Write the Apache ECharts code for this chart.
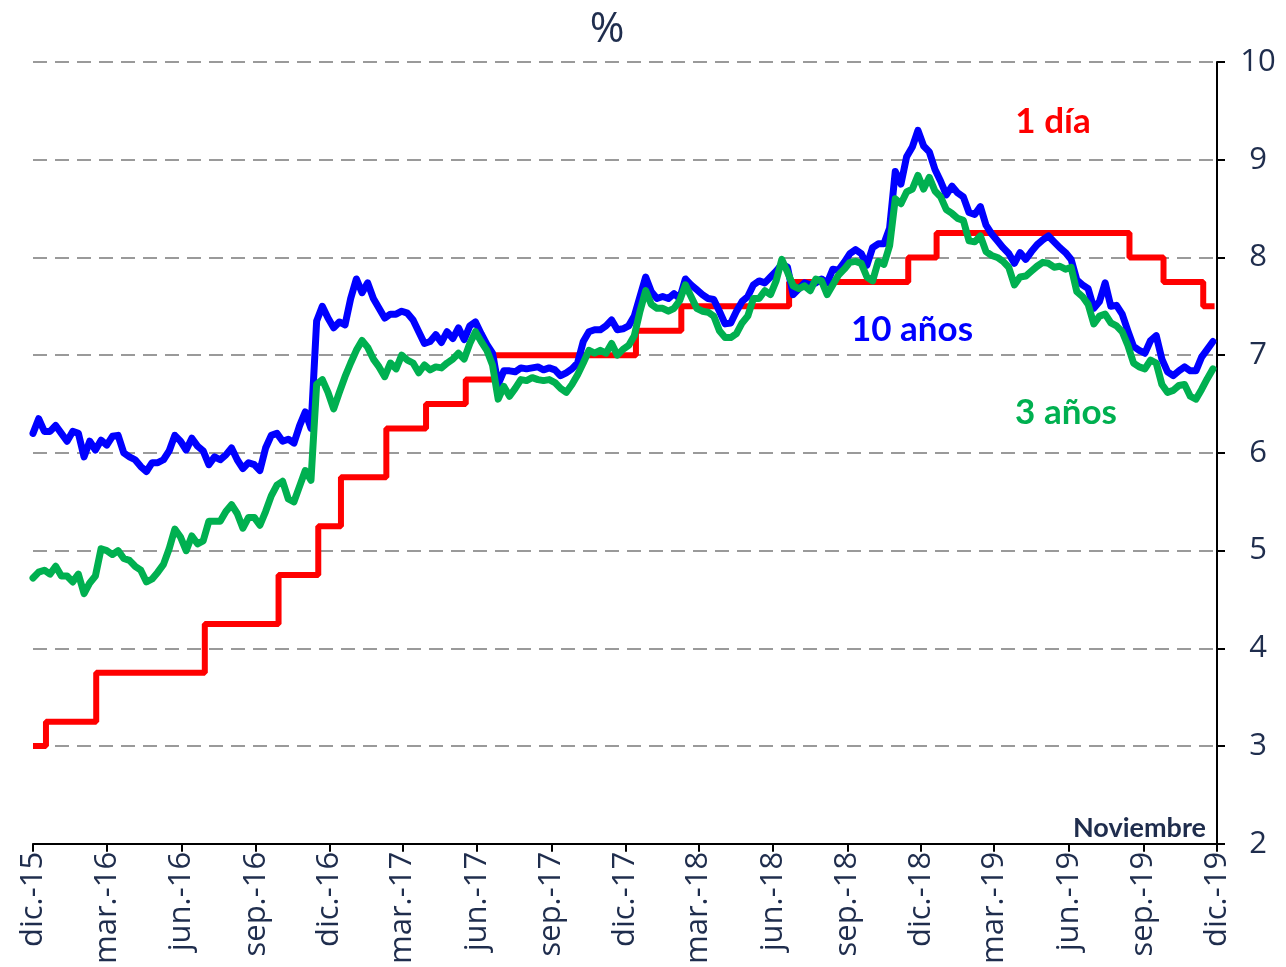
<!DOCTYPE html>
<html>
<head>
<meta charset="utf-8">
<title>Tasas de interés</title>
<script src="https://cdn.jsdelivr.net/npm/echarts@6/dist/echarts.min.js"></script>
<style>
  html, body { margin: 0; padding: 0; background: #ffffff; }
  #chart { width: 1286px; height: 967px; }
</style>
</head>
<body>
<div id="chart"></div>
<script>
// Weekly observations starting on the first week of December 2015
const firstWeek = [2015, 11, 1];

// Bono a 10 años (%), weekly
const tenYear = [
  6.20, 6.35, 6.22, 6.22, 6.28, 6.20, 6.12, 6.22, 6.20, 5.96,
  6.12, 6.03, 6.13, 6.08, 6.17, 6.18, 6.00, 5.96, 5.93, 5.86,
  5.81, 5.90, 5.90, 5.93, 6.02, 6.18, 6.12, 6.03, 6.15, 6.07,
  6.02, 5.88, 5.96, 5.93, 5.98, 6.05, 5.93, 5.84, 5.90, 5.88,
  5.82, 6.05, 6.18, 6.20, 6.12, 6.14, 6.10, 6.28, 6.42, 6.25,
  7.35, 7.50, 7.38, 7.28, 7.34, 7.31, 7.58, 7.78, 7.64, 7.74,
  7.58, 7.48, 7.38, 7.42, 7.42, 7.45, 7.43, 7.36, 7.24, 7.12,
  7.14, 7.21, 7.13, 7.24, 7.17, 7.28, 7.16, 7.30, 7.34, 7.22,
  7.11, 7.02, 6.70, 6.84, 6.84, 6.83, 6.87, 6.86, 6.87, 6.88,
  6.85, 6.87, 6.85, 6.79, 6.82, 6.86, 6.92, 7.14, 7.24, 7.26,
  7.26, 7.30, 7.36, 7.26, 7.27, 7.30, 7.40, 7.60, 7.80, 7.65,
  7.58, 7.60, 7.58, 7.63, 7.58, 7.78, 7.72, 7.67, 7.62, 7.58,
  7.57, 7.45, 7.32, 7.33, 7.45, 7.55, 7.60, 7.72, 7.76, 7.74,
  7.80, 7.86, 7.93, 7.90, 7.62, 7.68, 7.74, 7.72, 7.74, 7.78,
  7.74, 7.88, 7.87, 7.95, 8.04, 8.08, 8.04, 7.92, 8.10, 8.14,
  8.14, 8.30, 8.88, 8.75, 9.03, 9.13, 9.30, 9.14, 9.08, 8.90,
  8.78, 8.64, 8.73, 8.66, 8.62, 8.46, 8.44, 8.52, 8.33, 8.24,
  8.17, 8.10, 8.04, 7.94, 8.05, 7.98, 8.06, 8.13, 8.18, 8.22,
  8.16, 8.10, 8.05, 7.98, 7.77, 7.72, 7.68, 7.48, 7.55, 7.74,
  7.50, 7.51, 7.42, 7.25, 7.09, 7.05, 7.02, 7.15, 7.20, 6.96,
  6.83, 6.79, 6.84, 6.88, 6.84, 6.84, 6.98, 7.06, 7.14
];

// Bono a 3 años (%), weekly
const threeYear = [
  4.72, 4.78, 4.80, 4.76, 4.84, 4.74, 4.74, 4.68, 4.76, 4.56,
  4.67, 4.74, 5.02, 5.00, 4.96, 5.00, 4.92, 4.90, 4.84, 4.80,
  4.68, 4.71, 4.78, 4.86, 5.02, 5.22, 5.14, 5.00, 5.15, 5.07,
  5.10, 5.30, 5.30, 5.30, 5.40, 5.47, 5.38, 5.23, 5.34, 5.34,
  5.26, 5.40, 5.56, 5.67, 5.71, 5.53, 5.50, 5.66, 5.82, 5.72,
  6.70, 6.75, 6.62, 6.45, 6.62, 6.78, 6.92, 7.05, 7.15, 7.08,
  6.96, 6.88, 6.78, 6.92, 6.86, 7.00, 6.95, 6.92, 6.82, 6.90,
  6.85, 6.88, 6.87, 6.92, 6.96, 7.02, 6.96, 7.12, 7.24, 7.14,
  7.05, 6.90, 6.55, 6.68, 6.58, 6.66, 6.75, 6.74, 6.77, 6.75,
  6.74, 6.75, 6.72, 6.66, 6.62, 6.70, 6.80, 6.92, 7.05, 7.02,
  7.05, 7.02, 7.12, 7.00, 7.06, 7.10, 7.20, 7.45, 7.66, 7.52,
  7.48, 7.48, 7.45, 7.48, 7.56, 7.72, 7.60, 7.48, 7.45, 7.44,
  7.40, 7.25, 7.18, 7.18, 7.22, 7.33, 7.40, 7.58, 7.58, 7.66,
  7.62, 7.76, 7.98, 7.85, 7.71, 7.68, 7.71, 7.66, 7.78, 7.76,
  7.62, 7.72, 7.82, 7.88, 7.95, 7.96, 7.94, 7.80, 7.76, 7.96,
  7.93, 8.12, 8.60, 8.55, 8.67, 8.70, 8.84, 8.70, 8.82, 8.68,
  8.62, 8.49, 8.45, 8.40, 8.38, 8.17, 8.16, 8.22, 8.06, 8.02,
  8.00, 7.96, 7.90, 7.72, 7.80, 7.81, 7.86, 7.91, 7.95, 7.94,
  7.90, 7.91, 7.88, 7.90, 7.65, 7.60, 7.52, 7.32, 7.40, 7.42,
  7.33, 7.30, 7.24, 7.10, 6.92, 6.88, 6.86, 6.95, 6.92, 6.70,
  6.62, 6.64, 6.69, 6.70, 6.58, 6.55, 6.65, 6.76, 6.86
];

// Tasa objetivo a 1 día: dates of each decision and the new level (%)
const policyDates = [
  '2015-12-01', '2015-12-17', '2016-02-17', '2016-06-30', '2016-09-29',
  '2016-11-17', '2016-12-15', '2017-02-09', '2017-03-30', '2017-05-18',
  '2017-06-22', '2017-12-14', '2018-02-08', '2018-06-21', '2018-11-15',
  '2018-12-20', '2019-08-15', '2019-09-26', '2019-11-14', '2019-11-28'
];
const policyRates = [
  3.00, 3.25, 3.75, 4.25, 4.75,
  5.25, 5.75, 6.25, 6.50, 6.75,
  7.00, 7.25, 7.50, 7.75, 8.00,
  8.25, 8.00, 7.75, 7.50, 7.50
];

// Quarterly ticks on the date axis
const tickDates = [
  '2015-12-01', '2016-03-01', '2016-06-01', '2016-09-01', '2016-12-01',
  '2017-03-01', '2017-06-01', '2017-09-01', '2017-12-01',
  '2018-03-01', '2018-06-01', '2018-09-01', '2018-12-01',
  '2019-03-01', '2019-06-01', '2019-09-01', '2019-12-01'
];
const tickLabels = [
  'dic.-15', 'mar.-16', 'jun.-16', 'sep.-16', 'dic.-16',
  'mar.-17', 'jun.-17', 'sep.-17', 'dic.-17',
  'mar.-18', 'jun.-18', 'sep.-18', 'dic.-18',
  'mar.-19', 'jun.-19', 'sep.-19', 'dic.-19'
];

// Dates are placed on a numeric axis as day counts from the first tick
const DAY = 86400000;
const toUTC = s => { const p = s.split('-').map(Number); return Date.UTC(p[0], p[1] - 1, p[2]); };
const origin = toUTC(tickDates[0]);
const dayOf = s => Math.round((toUTC(s) - origin) / DAY);
const weekStart = Math.round((Date.UTC(firstWeek[0], firstWeek[1], firstWeek[2]) - origin) / DAY);
const weekDay = i => weekStart + 7 * i;
const tickDays = tickDates.map(dayOf);
const labelFor = v => {
  const k = tickDays.indexOf(Math.round(v));
  return k >= 0 ? tickLabels[k] : '';
};

const textColor = '#1f2d4d';
const axisFont = '"Open Sans", "DejaVu Sans", sans-serif';
const noteFont = 'Lato, "Open Sans", sans-serif';

const chart = echarts.init(document.getElementById('chart'), null, { renderer: 'canvas' });

chart.setOption({
  animation: false,
  backgroundColor: '#ffffff',
  grid: { left: 33, right: 69, top: 62, bottom: 122, containLabel: false },
  xAxis: {
    type: 'value',
    min: tickDays[0],
    max: tickDays[tickDays.length - 1],
    axisLine: { show: true, onZero: false, lineStyle: { color: '#000000', width: 2 } },
    axisTick: {
      show: true, customValues: tickDays, length: 8,
      lineStyle: { color: '#000000', width: 2 }
    },
    axisLabel: {
      customValues: tickDays,
      formatter: v => labelFor(v),
      rotate: 90,
      margin: 8,
      color: textColor,
      fontSize: 31,
      fontFamily: axisFont,
      showMinLabel: true,
      showMaxLabel: true,
      hideOverlap: false
    },
    splitLine: { show: false }
  },
  yAxis: {
    type: 'value',
    position: 'right',
    min: 2,
    max: 10,
    interval: 1,
    axisLine: { show: true, onZero: false, lineStyle: { color: '#000000', width: 2 } },
    axisTick: { show: true, inside: false, length: 8, lineStyle: { color: '#000000', width: 2 } },
    axisLabel: {
      margin: 41,
      align: 'center',
      color: textColor,
      fontSize: 31,
      fontFamily: axisFont
    },
    splitLine: {
      show: true,
      showMinLine: false,
      lineStyle: { color: '#9a9a9a', width: 2, type: [14, 8] }
    }
  },
  series: [
    {
      name: '1 día',
      type: 'line',
      step: 'end',
      data: policyDates.map((d, i) => [dayOf(d), policyRates[i]]),
      showSymbol: false,
      symbol: 'none',
      lineStyle: { color: '#ff0000', width: 6 },
      z: 2
    },
    {
      name: '10 años',
      type: 'line',
      data: tenYear.map((v, i) => [weekDay(i), v]),
      showSymbol: false,
      symbol: 'none',
      lineStyle: { color: '#0000ff', width: 7, join: 'round', cap: 'round' },
      z: 3
    },
    {
      name: '3 años',
      type: 'line',
      data: threeYear.map((v, i) => [weekDay(i), v]),
      showSymbol: false,
      symbol: 'none',
      lineStyle: { color: '#00b050', width: 7, join: 'round', cap: 'round' },
      z: 4
    }
  ],
  graphic: [
    {
      type: 'text', x: 607, y: 30,
      style: { text: '%', fontSize: 42, fontFamily: axisFont, fill: textColor, align: 'center', verticalAlign: 'middle' }
    },
    {
      type: 'text', x: 1053, y: 122,
      style: { text: '1 día', fontSize: 35, fontWeight: 'bold', fontFamily: noteFont, fill: '#ff0000', align: 'center', verticalAlign: 'middle' }
    },
    {
      type: 'text', x: 912, y: 330,
      style: { text: '10 años', fontSize: 35, fontWeight: 'bold', fontFamily: noteFont, fill: '#0000ff', align: 'center', verticalAlign: 'middle' }
    },
    {
      type: 'text', x: 1066, y: 413,
      style: { text: '3 años', fontSize: 35, fontWeight: 'bold', fontFamily: noteFont, fill: '#00b050', align: 'center', verticalAlign: 'middle' }
    },
    {
      type: 'text', x: 1206, y: 828,
      style: { text: 'Noviembre', fontSize: 27, fontWeight: 'bold', fontFamily: noteFont, fill: textColor, align: 'right', verticalAlign: 'middle' }
    }
  ]
});
</script>
</body>
</html>
